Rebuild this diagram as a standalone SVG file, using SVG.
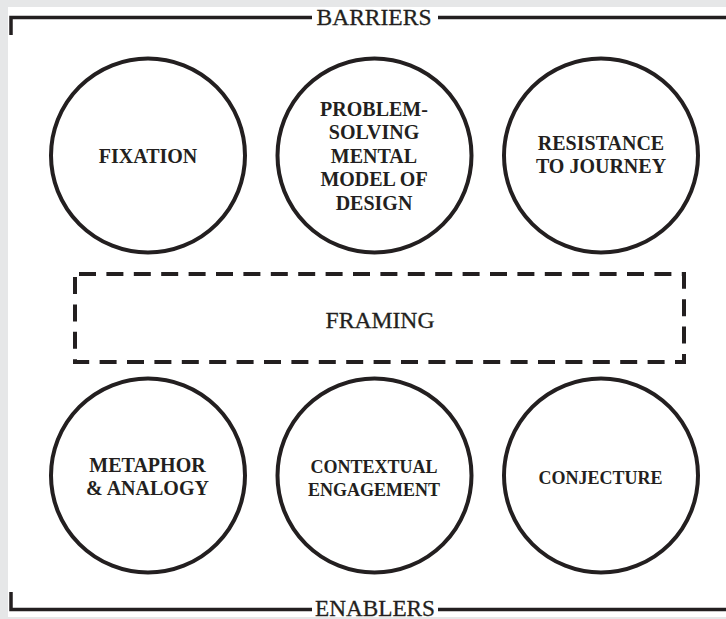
<svg xmlns="http://www.w3.org/2000/svg" width="726" height="619" viewBox="0 0 726 619">
  <style>
    .frame { fill: none; stroke: #231f20; stroke-width: 3.5; }
    .node circle { fill: #ffffff; stroke: #231f20; stroke-width: 4; }
    .lbl { font-family: "Liberation Serif", "Times New Roman", serif; font-weight: bold; font-size: 20px; fill: #231f20; text-anchor: middle; }
    .sm { font-size: 18px; }
    .hdr { font-family: "Liberation Serif", "Times New Roman", serif; font-size: 24px; fill: #231f20; stroke: #231f20; stroke-width: 0.3; text-anchor: middle; }
  </style>
  <rect x="0" y="0" width="726" height="619" fill="#e6e7e8"/>
  <rect x="8" y="7" width="718" height="610" fill="#ffffff"/>

  <g id="connectors">
    <polyline class="frame" points="11,35 11,17.5 312,17.5"/>
    <line class="frame" x1="438" y1="17.5" x2="726" y2="17.5"/>
    <polyline class="frame" points="11,592 11,609.5 312,609.5"/>
    <line class="frame" x1="438" y1="609.5" x2="726" y2="609.5"/>
  </g>

  <g id="barriers">
    <text class="hdr" x="374" y="25" textLength="115" lengthAdjust="spacingAndGlyphs">BARRIERS</text>
  </g>
  <g id="enablers">
    <text class="hdr" x="375" y="615.5" textLength="120" lengthAdjust="spacingAndGlyphs">ENABLERS</text>
  </g>

  <g id="fixation" class="node">
    <circle cx="148" cy="155.5" r="97"/>
    <text class="lbl" x="148" y="163">FIXATION</text>
  </g>
  <g id="problem-solving" class="node">
    <circle cx="374.5" cy="155.5" r="97"/>
    <text class="lbl" x="374" y="115.5">PROBLEM-</text>
    <text class="lbl" x="374" y="139">SOLVING</text>
    <text class="lbl" x="374" y="162.5">MENTAL</text>
    <text class="lbl" x="374" y="186">MODEL OF</text>
    <text class="lbl" x="374" y="209.5">DESIGN</text>
  </g>
  <g id="resistance" class="node">
    <circle cx="601" cy="155.5" r="97"/>
    <text class="lbl" x="601" y="150">RESISTANCE</text>
    <text class="lbl" x="601" y="173">TO JOURNEY</text>
  </g>

  <g id="framing">
    <rect x="75" y="274" width="609" height="88" fill="none" stroke="#231f20" stroke-width="4" stroke-dasharray="17 10.4" stroke-dashoffset="-4"/>
    <text class="hdr" x="380" y="328" textLength="109" lengthAdjust="spacingAndGlyphs">FRAMING</text>
  </g>

  <g id="metaphor" class="node">
    <circle cx="148" cy="475.5" r="97"/>
    <text class="lbl" x="147.5" y="472">METAPHOR</text>
    <text class="lbl" x="147.5" y="495">&amp; ANALOGY</text>
  </g>
  <g id="contextual" class="node">
    <circle cx="374.5" cy="475.5" r="97"/>
    <text class="lbl sm" x="374" y="473">CONTEXTUAL</text>
    <text class="lbl sm" x="374" y="495.5">ENGAGEMENT</text>
  </g>
  <g id="conjecture" class="node">
    <circle cx="601" cy="475.5" r="97"/>
    <text class="lbl sm" x="600.5" y="483.5">CONJECTURE</text>
  </g>
</svg>
